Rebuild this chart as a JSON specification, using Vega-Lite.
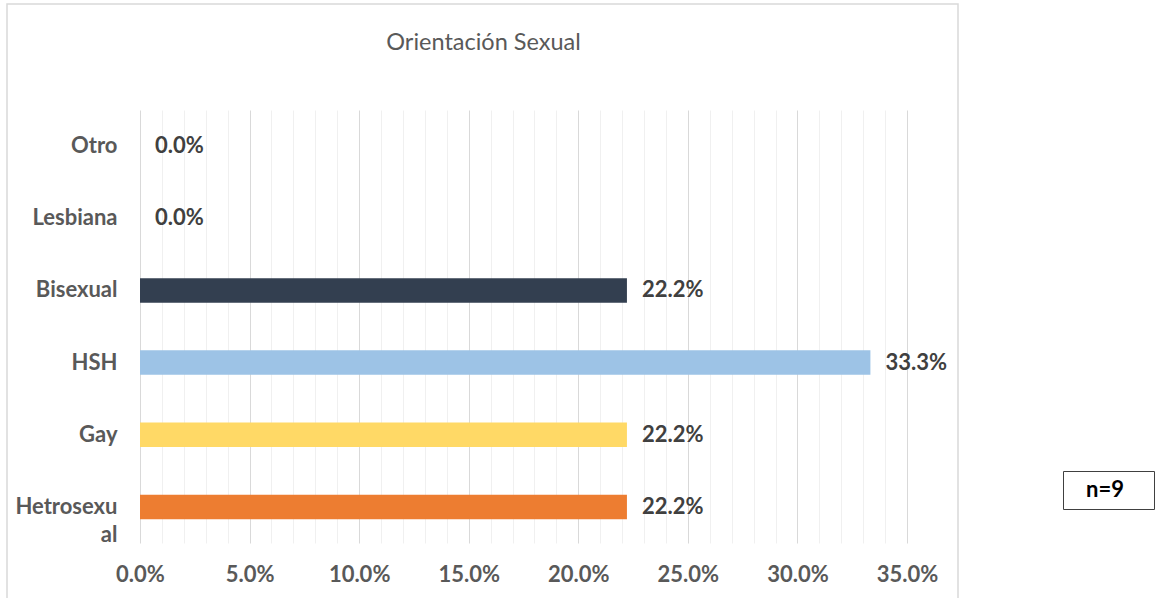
{
  "$schema": "https://vega.github.io/schema/vega-lite/v6.json",
  "width": 767,
  "height": 433,
  "autosize": "none",
  "padding": {"left": 140, "top": 110, "right": 248, "bottom": 55},
  "background": "white",
  "title": {
    "text": "Orientación Sexual",
    "anchor": "middle",
    "frame": "group",
    "dx": -40,
    "offset": -69,
    "baseline": "alphabetic",
    "font": "Lato",
    "fontSize": 23.5,
    "fontWeight": "normal",
    "color": "#595959"
  },
  "config": {"view": {"stroke": null}},
  "data": {
    "values": [
      {"cat": "Otro", "pct": 0},
      {"cat": "Lesbiana", "pct": 0},
      {"cat": "Bisexual", "pct": 0.2222},
      {"cat": "HSH", "pct": 0.3333},
      {"cat": "Gay", "pct": 0.2222},
      {"cat": "Hetrosexual", "pct": 0.2222}
    ]
  },
  "layer": [
    {
      "mark": {"type": "bar"},
      "encoding": {
        "y": {
          "field": "cat",
          "type": "nominal",
          "sort": ["Otro", "Lesbiana", "Bisexual", "HSH", "Gay", "Hetrosexual"],
          "scale": {"paddingInner": 0.66, "paddingOuter": 0.33},
          "axis": {
            "title": null,
            "domain": false,
            "ticks": false,
            "tickSize": 0,
            "grid": false,
            "labelPadding": 23,
            "labelFont": "Lato",
            "labelFontSize": 22,
            "labelFontWeight": "bold",
            "labelColor": "#595959",
            "labelLineHeight": 28,
            "labelExpr": "datum.label === 'Hetrosexual' ? ['Hetrosexu', 'al'] : datum.label"
          }
        },
        "x": {
          "field": "pct",
          "type": "quantitative",
          "scale": {"domain": [0, 0.35], "nice": false, "zero": true},
          "axis": {
            "title": null,
            "domain": false,
            "ticks": false,
            "tickSize": 0,
            "grid": true,
            "tickCount": 100,
            "values": [0, 0.01, 0.02, 0.03, 0.04, 0.05, 0.06, 0.07, 0.08, 0.09, 0.1, 0.11, 0.12, 0.13, 0.14, 0.15, 0.16, 0.17, 0.18, 0.19, 0.2, 0.21, 0.22, 0.23, 0.24, 0.25, 0.26, 0.27, 0.28, 0.29, 0.3, 0.31, 0.32, 0.33, 0.34, 0.35],
            "gridColor": {"condition": {"test": "round(datum.value * 100) % 5 === 0", "value": "#d9d9d9"}, "value": "#f0f0f0"},
            "labelExpr": "round(datum.value * 100) % 5 === 0 ? format(datum.value, '.1%') : ''",
            "labelPadding": 21,
            "labelFlush": false,
            "labelFont": "Lato",
            "labelFontSize": 22,
            "labelFontWeight": "bold",
            "labelColor": "#595959",
            "labelOverlap": false
          }
        },
        "color": {
          "field": "cat",
          "type": "nominal",
          "scale": {
            "domain": ["Otro", "Lesbiana", "Bisexual", "HSH", "Gay", "Hetrosexual"],
            "range": ["#A5A5A5", "#5B9BD5", "#333F50", "#9DC3E6", "#FFD966", "#ED7D31"]
          },
          "legend": null
        }
      }
    },
    {
      "mark": {"type": "text", "align": "left", "baseline": "middle", "dx": 15, "font": "Lato", "fontSize": 22, "fontWeight": "bold", "color": "#404040"},
      "encoding": {
        "y": {"field": "cat", "type": "nominal", "sort": ["Otro", "Lesbiana", "Bisexual", "HSH", "Gay", "Hetrosexual"]},
        "x": {"field": "pct", "type": "quantitative"},
        "text": {"field": "pct", "type": "quantitative", "format": ".1%"}
      }
    },
    {
      "data": {"values": [{"n": "n=9", "v": 0}]},
      "mark": {"type": "point", "opacity": 0},
      "encoding": {
        "shape": {
          "field": "n",
          "type": "nominal",
          "legend": {
            "title": ".",
            "titleOrient": "right",
            "titlePadding": 19,
            "titleFontSize": 10,
            "titleOpacity": 0,
            "orient": "none",
            "legendX": 923,
            "legendY": 361,
            "strokeColor": "#404040",
            "fillColor": "white",
            "padding": 8,
            "symbolSize": 25,
            "symbolOpacity": 0,
            "symbolStrokeWidth": 0,
            "labelOffset": -7,
            "labelFont": "Lato",
            "labelFontSize": 22,
            "labelFontWeight": "bold",
            "labelColor": "#000000"
          }
        },
        "fill": {
          "field": "v",
          "type": "quantitative",
          "scale": {"domain": [0, 1], "range": ["rgba(255,255,255,0)", "rgba(255,255,255,0)"]},
          "legend": {
            "title": null,
            "orient": "none",
            "direction": "vertical",
            "legendX": -133,
            "legendY": -106,
            "padding": 0,
            "gradientLength": 600,
            "gradientThickness": 951,
            "gradientStrokeColor": "#d9d9d9",
            "gradientStrokeWidth": 1.5,
            "labelExpr": "''",
            "labelOpacity": 0,
            "labelFontSize": 1
          }
        }
      }
    }
  ]
}
